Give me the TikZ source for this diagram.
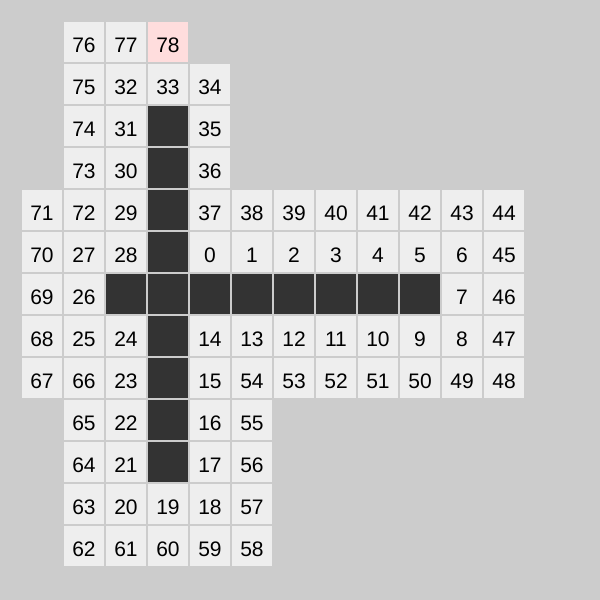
\documentclass[tikz,border=0pt]{standalone}
\usepackage{fontspec}
\setmainfont{Liberation Sans}
\definecolor{bggray}{HTML}{CCCCCC}
\definecolor{cellgray}{HTML}{EEEEEE}
\definecolor{wallgray}{HTML}{333333}
\definecolor{startpink}{HTML}{FFDDDD}
\tikzset{
  cell/.style={minimum size=20pt, inner sep=0pt, fill=cellgray, text height=10pt, text depth=0pt,
    font=\fontsize{10.5pt}{12pt}\selectfont},
  wall/.style={cell, fill=wallgray},
  start/.style={cell, fill=startpink}
}
\begin{document}
\begin{tikzpicture}[x=0.5pt, y=-0.5pt]
            \fill[bggray] (0,0) rectangle (600,600);
            \useasboundingbox (0,0) rectangle (600,600);
            % numbered cells
            \foreach \c/\r/\n in {1/0/76, 2/0/77,
              1/1/75, 2/1/32, 3/1/33, 4/1/34,
              1/2/74, 2/2/31, 4/2/35,
              1/3/73, 2/3/30, 4/3/36,
              0/4/71, 1/4/72, 2/4/29, 4/4/37, 5/4/38, 6/4/39, 7/4/40, 8/4/41, 9/4/42, 10/4/43, 11/4/44,
              0/5/70, 1/5/27, 2/5/28, 4/5/0, 5/5/1, 6/5/2, 7/5/3, 8/5/4, 9/5/5, 10/5/6, 11/5/45,
              0/6/69, 1/6/26, 10/6/7, 11/6/46,
              0/7/68, 1/7/25, 2/7/24, 4/7/14, 5/7/13, 6/7/12, 7/7/11, 8/7/10, 9/7/9, 10/7/8, 11/7/47,
              0/8/67, 1/8/66, 2/8/23, 4/8/15, 5/8/54, 6/8/53, 7/8/52, 8/8/51, 9/8/50, 10/8/49, 11/8/48,
              1/9/65, 2/9/22, 4/9/16, 5/9/55,
              1/10/64, 2/10/21, 4/10/17, 5/10/56,
              1/11/63, 2/11/20, 3/11/19, 4/11/18, 5/11/57,
              1/12/62, 2/12/61, 3/12/60, 4/12/59, 5/12/58}
              \node[cell] (cell-\c-\r) at (42+42*\c, 42+42*\r) {\n};
            \node[start] (cell-3-0) at (42+42*3, 42) {78};
            % walls
            \foreach \r in {2,...,10}
              \node[wall] (wall-3-\r) at (42+42*3, 42+42*\r) {};
            \foreach \c in {2,4,5,6,7,8,9}
              \node[wall] (wall-\c-6) at (42+42*\c, 42+42*6) {};
        \end{tikzpicture}
\end{document}
